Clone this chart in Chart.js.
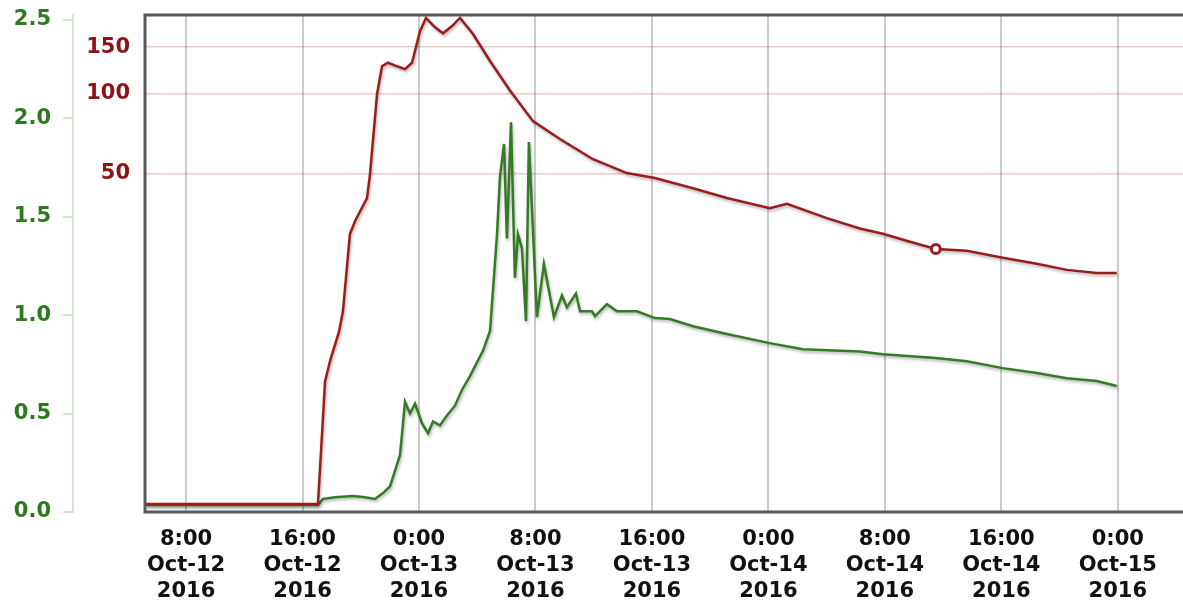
<!DOCTYPE html>
<html lang="en">
<head>
  <meta charset="UTF-8" />
  <title>Flow and gauge height - Oct 2016</title>
  <script src="https://cdn.jsdelivr.net/npm/chart.js"></script>
  <style>
    * { box-sizing: border-box; margin: 0; padding: 0; }
    body { background: white; font-family: "DejaVu Sans", sans-serif; }
    .chart-box { width: 1183px; height: 600px; }
  </style>
</head>
<body>

<div class="chart-box">
  <canvas id="flowChart" width="1183" height="600"></canvas>
</div>

<script>
  // hours counted from Oct-12 2016 0:00
  const redHours = [5.18, 17.06, 17.55, 17.89, 18.51, 18.78, 19.26, 19.61, 20.43, 20.64,
    21.12, 21.46, 21.87, 22.49, 23.04, 23.52, 24.07, 24.48, 25.10, 25.65,
    26.27, 26.82, 27.71, 28.88, 30.25, 31.83, 33.68, 35.95, 38.28, 40.21,
    42.82, 45.15, 48.10, 49.27, 52.02, 54.28, 55.86, 57.72, 59.50, 61.63,
    64.10, 66.44, 68.50, 70.56, 71.93];
  const redValues = [2.87, 2.87, 8.3, 9.9, 12.8, 15.3, 29.8, 33.3, 40.6, 50,
    100, 127, 131, 127, 124, 131, 172, 193, 178, 169,
    180, 193, 168, 133, 103, 79, 67.7, 56.8, 50.4, 48.3,
    44.2, 40.6, 37.2, 38.6, 34.1, 31.2, 29.8, 27.8, 26.1, 25.7,
    24.2, 23.0, 21.8, 21.2, 21.2];

  const greenHours = [5.18, 17.06, 17.41, 18.23, 19.47, 20.29, 20.98, 21.53, 22.01, 22.70,
    23.04, 23.38, 23.73, 24.21, 24.62, 24.96, 25.44, 25.92, 26.47, 26.95,
    27.50, 28.40, 28.88, 29.36, 29.56, 29.84, 30.04, 30.32, 30.59, 30.80,
    31.07, 31.35, 31.55, 32.10, 32.58, 33.27, 33.82, 34.16, 34.78, 35.06,
    35.88, 36.09, 36.91, 37.60, 38.97, 40.21, 41.24, 42.82, 45.15, 48.10,
    50.37, 54.28, 55.86, 59.50, 61.63, 64.10, 66.44, 68.50, 70.56, 71.93];
  const greenValues = [0.035, 0.035, 0.066, 0.075, 0.081, 0.075, 0.066, 0.096, 0.13, 0.29,
    0.56, 0.50, 0.55, 0.45, 0.40, 0.46, 0.44, 0.49, 0.54, 0.62,
    0.69, 0.82, 0.92, 1.41, 1.70, 1.87, 1.39, 1.98, 1.19, 1.41,
    1.34, 0.97, 1.88, 0.99, 1.26, 0.99, 1.10, 1.04, 1.11, 1.02,
    1.02, 0.995, 1.056, 1.02, 1.02, 0.985, 0.98, 0.944, 0.904, 0.858,
    0.827, 0.815, 0.802, 0.782, 0.766, 0.731, 0.706, 0.68, 0.665, 0.64];

  const highlightHour = 59.50;
  const highlightValue = 26.1;

  const xTickHours = [8, 16, 24, 32, 40, 48, 56, 64, 72];
  const redTicks = [50, 100, 150];
  const greenTicks = [0, 0.5, 1.0, 1.5, 2.0, 2.5];

  const RED = '#9b1c1c';
  const GREEN = '#357a25';

  Chart.defaults.font.family = '"DejaVu Sans", Verdana, sans-serif';

  function toPoints(hours, values) {
    return hours.map((h, i) => ({ x: h, y: values[i] }));
  }

  function timeLabel(h) {
    const day = 12 + Math.floor(h / 24);
    return [(h % 24) + ':00', 'Oct-' + day, '2016'];
  }

  // no extra room for overhanging labels, the plot runs edge to edge
  function noPadding(s) {
    s.paddingTop = 0;
    s.paddingBottom = 0;
    s.paddingLeft = 0;
    s.paddingRight = 0;
  }

  // soft shadow under the two lines
  const lineShadow = {
    id: 'lineShadow',
    beforeDatasetDraw(chart, args) {
      if (args.index === 0) return;
      const ctx = chart.ctx;
      ctx.save();
      ctx.shadowColor = 'rgba(0,0,0,0.3)';
      ctx.shadowBlur = 3;
      ctx.shadowOffsetX = 1;
      ctx.shadowOffsetY = 2;
    },
    afterDatasetDraw(chart, args) {
      if (args.index === 0) return;
      chart.ctx.restore();
    }
  };

  // dark frame on top, left and bottom of the plot
  const plotFrame = {
    id: 'plotFrame',
    afterDatasetsDraw(chart) {
      const { ctx, chartArea } = chart;
      ctx.save();
      ctx.strokeStyle = '#595959';
      ctx.lineWidth = 3;
      ctx.beginPath();
      ctx.moveTo(chartArea.right, chartArea.top);
      ctx.lineTo(chartArea.left, chartArea.top);
      ctx.lineTo(chartArea.left, chartArea.bottom);
      ctx.lineTo(chartArea.right, chartArea.bottom);
      ctx.stroke();
      ctx.restore();
    }
  };

  const boldFont = { size: 21, weight: 'bold', lineHeight: 1.25 };

  new Chart(document.getElementById('flowChart'), {
    type: 'line',
    data: {
      datasets: [
        {
          label: 'highlight',
          data: [{ x: highlightHour, y: highlightValue }],
          yAxisID: 'yRed',
          showLine: false,
          pointRadius: 4.5,
          pointBorderWidth: 3,
          pointBackgroundColor: '#ffffff',
          pointBorderColor: RED
        },
        {
          label: 'Discharge',
          data: toPoints(redHours, redValues),
          yAxisID: 'yRed',
          borderColor: RED,
          borderWidth: 2.5,
          pointRadius: 0,
          tension: 0
        },
        {
          label: 'Gage height',
          data: toPoints(greenHours, greenValues),
          yAxisID: 'yGreen',
          borderColor: GREEN,
          borderWidth: 2.5,
          pointRadius: 0,
          tension: 0
        }
      ]
    },
    options: {
      responsive: false,
      animation: false,
      layout: { autoPadding: false, padding: { top: 15, right: 0, bottom: 0, left: 0 } },
      plugins: {
        legend: { display: false },
        tooltip: { enabled: false }
      },
      scales: {
        x: {
          type: 'linear',
          min: 5.18,
          max: 76.48,
          afterBuildTicks: s => { s.ticks = xTickHours.map(v => ({ value: v })); },
          ticks: {
            callback: v => timeLabel(v),
            color: '#111',
            font: boldFont,
            padding: 14,
            maxRotation: 0,
            autoSkip: false
          },
          grid: { color: '#cbcbcb', lineWidth: 2, drawTicks: false },
          border: { display: false },
          afterFit: s => { s.height = 88; noPadding(s); }
        },
        yGreen: {
          type: 'linear',
          position: 'left',
          weight: 10,
          min: 0,
          max: 2.525,
          afterBuildTicks: s => { s.ticks = greenTicks.map(v => ({ value: v })); },
          ticks: {
            callback: v => v.toFixed(1),
            color: '#2d7a1e',
            font: boldFont,
            padding: 12
          },
          grid: { drawOnChartArea: false, color: '#d3e5d3', lineWidth: 2, tickLength: 10 },
          border: { color: '#d3e5d3', width: 2 },
          afterFit: s => { s.width = 73; noPadding(s); }
        },
        yRed: {
          type: 'logarithmic',
          position: 'left',
          weight: 0,
          min: 2.68,
          max: 198,
          afterBuildTicks: s => { s.ticks = redTicks.map(v => ({ value: v })); },
          ticks: {
            callback: v => String(v),
            color: '#8b1414',
            font: boldFont,
            padding: 15
          },
          grid: { color: 'rgba(190,80,80,0.3)', lineWidth: 1.5, drawTicks: false },
          border: { display: false },
          afterFit: s => { s.width = 72; noPadding(s); }
        }
      }
    },
    plugins: [lineShadow, plotFrame]
  });
</script>

</body>
</html>
